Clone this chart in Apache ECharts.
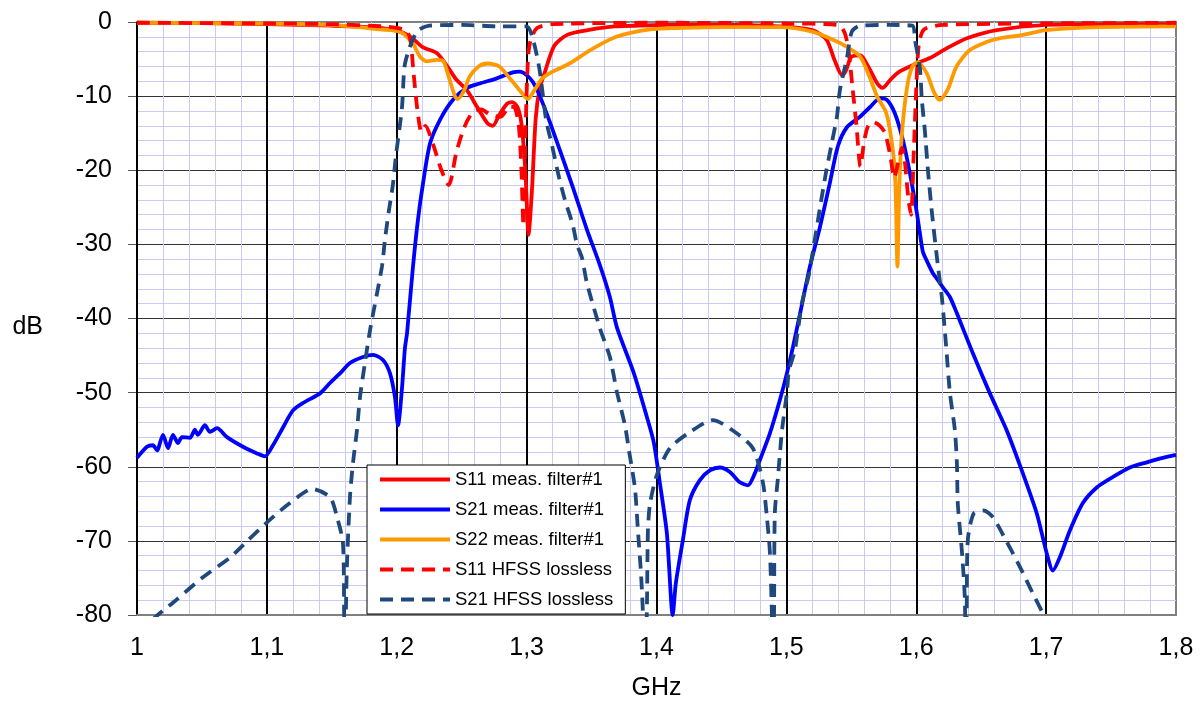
<!DOCTYPE html>
<html><head><meta charset="utf-8">
<script src="https://cdn.jsdelivr.net/npm/echarts@6/dist/echarts.min.js"></script>
<style>html,body{margin:0;padding:0;background:#fff}#c{width:1204px;height:706px}</style>
</head><body><div id="c"></div>
<script>
const seriesNames = ['S11 meas. filter#1','S21 meas. filter#1','S22 meas. filter#1','S11 HFSS lossless','S21 HFSS lossless'];
const xTickLabels = ['1','1,1','1,2','1,3','1,4','1,5','1,6','1,7','1,8'];

const s11MeasF = [1.00,1.05,1.10,1.15,1.1875,1.2025,1.212,1.220,1.231,1.239,1.246,1.254,1.262,1.270,1.274,1.279,1.285,1.289,1.293,1.296,1.299,1.3015,1.304,1.307,1.310,1.3136,1.3213,1.3316,1.347,1.368,1.407,1.45,1.495,1.520,1.531,1.537,1.543,1.546,1.550,1.557,1.563,1.570,1.574,1.580,1.587,1.600,1.610,1.624,1.639,1.662,1.700,1.75,1.80];
const s11MeasDb = [-0.1,-0.15,-0.3,-0.5,-0.8,-1.3,-2.2,-3.4,-4.2,-6.0,-7.8,-9.2,-11.5,-13.7,-14.0,-12.5,-11.0,-10.8,-11.5,-13.7,-20,-28.7,-23,-13,-9,-7.0,-3.2,-1.7,-1.1,-0.6,-0.4,-0.35,-0.6,-1.1,-2.4,-5.1,-7.2,-6.5,-4.7,-4.5,-6.0,-8.3,-8.9,-7.8,-6.7,-5.6,-4.9,-3.5,-2.2,-1.1,-0.4,-0.3,-0.3];

const s21MeasF = [1.000,1.0077,1.0123,1.0154,1.020,1.0239,1.0277,1.0316,1.0346,1.0408,1.0446,1.0469,1.0523,1.0562,1.0616,1.0693,1.0816,1.0924,1.0985,1.1047,1.1124,1.1201,1.1278,1.1409,1.1486,1.1563,1.164,1.174,1.1817,1.1894,1.1948,1.1986,1.201,1.204,1.2063,1.2079,1.2125,1.2163,1.2202,1.2256,1.2333,1.2433,1.254,1.264,1.2771,1.2894,1.2948,1.3002,1.3048,1.3102,1.3179,1.3256,1.3356,1.3464,1.3564,1.3641,1.3695,1.3826,1.3926,1.398,1.4026,1.408,1.4125,1.4149,1.4203,1.4257,1.4334,1.4411,1.4488,1.4565,1.4642,1.4704,1.4757,1.4796,1.4873,1.495,1.5004,1.505,1.51,1.5181,1.5258,1.5335,1.5396,1.5466,1.5566,1.5643,1.572,1.5774,1.5835,1.5897,1.5951,1.6005,1.6028,1.6051,1.6078,1.6128,1.6166,1.6205,1.6259,1.6313,1.6436,1.6567,1.6697,1.6821,1.6928,1.7005,1.7052,1.7106,1.7183,1.7283,1.739,1.7513,1.7644,1.7775,1.7898,1.800];
const s21MeasDb = [-58.8,-57.3,-57.1,-57.8,-55.7,-57.5,-55.7,-56.8,-56.0,-56.1,-55.0,-55.7,-54.4,-55.3,-54.8,-56.0,-57.3,-58.2,-58.6,-57.1,-54.7,-52.4,-51.4,-50.1,-48.7,-47.4,-46.0,-45.2,-44.9,-45.6,-47.4,-50.6,-54.4,-49.5,-44,-42,-33,-26.7,-21.8,-16.4,-13.2,-10.5,-8.9,-8.3,-7.6,-6.8,-6.7,-7.2,-8.1,-10,-13.5,-17.3,-22.3,-28,-32.8,-37.1,-41.2,-47.4,-53.3,-56.8,-62.2,-69,-80,-75.7,-69.9,-64.5,-61.8,-60.5,-60.1,-60.7,-62.1,-62.5,-60.9,-59.1,-55.5,-51,-47.4,-43.9,-39.8,-33,-27.7,-21.7,-16.8,-14.2,-12.8,-11.5,-10.3,-10.5,-12.3,-15.9,-20.4,-25.8,-28.5,-31,-32.1,-33.9,-34.8,-35.8,-37.1,-39.3,-44.7,-50.1,-55.1,-60.9,-66.3,-71.7,-74,-72.2,-68.6,-64.9,-62.8,-61.4,-60.1,-59.4,-58.8,-58.4];

const s22MeasF = [1.00,1.10,1.15,1.1875,1.2025,1.212,1.218,1.223,1.231,1.236,1.240,1.245,1.247,1.252,1.256,1.263,1.270,1.279,1.288,1.296,1.301,1.306,1.312,1.320,1.333,1.349,1.369,1.395,1.42,1.45,1.495,1.520,1.536,1.546,1.557,1.564,1.570,1.577,1.582,1.584,1.5855,1.587,1.589,1.593,1.597,1.601,1.608,1.614,1.618,1.624,1.631,1.641,1.654,1.664,1.680,1.700,1.741,1.80];
const s22MeasDb = [-0.1,-0.2,-0.4,-1.0,-1.3,-2.8,-4.7,-5.3,-5.1,-5.3,-7.4,-10.1,-10.4,-9.2,-7.4,-6.0,-5.6,-6.0,-7.8,-9.5,-10.4,-9.2,-7.6,-6.7,-5.6,-3.8,-2.0,-1.0,-0.8,-0.7,-0.7,-1.3,-2.4,-3.3,-4.7,-7.4,-10.1,-12.3,-17.3,-22,-33,-22,-15,-8.7,-6.0,-5.4,-6.9,-9.6,-10.5,-9.2,-6.0,-3.8,-2.7,-2.2,-1.8,-1.1,-0.7,-0.6];

const s11HfssF = [1.00,1.10,1.15,1.19,1.205,1.210,1.213,1.216,1.219,1.222,1.228,1.234,1.240,1.246,1.252,1.258,1.265,1.272,1.280,1.287,1.291,1.294,1.296,1.2975,1.299,1.301,1.303,1.308,1.32,1.40,1.50,1.540,1.545,1.548,1.551,1.554,1.557,1.560,1.563,1.567,1.572,1.576,1.580,1.583,1.586,1.589,1.591,1.594,1.596,1.598,1.600,1.602,1.606,1.62,1.70,1.80];
const s11HfssDb = [-0.1,-0.2,-0.3,-0.6,-1.0,-2.0,-7.0,-12.0,-14.8,-14.0,-16.5,-19.8,-22,-17.5,-14.2,-12.3,-11.8,-12.5,-12.8,-11.4,-11.6,-14,-20,-27.5,-16,-5,-2.5,-0.8,-0.3,-0.1,-0.2,-0.4,-1.5,-4,-9,-14,-19.5,-16,-14,-13.5,-14,-15,-18,-21,-19,-17,-18.5,-24,-26,-18,-9,-3,-1,-0.4,-0.2,-0.1];

const s21HfssF = [1.000,1.016,1.030,1.050,1.072,1.085,1.102,1.117,1.135,1.1486,1.154,1.1586,1.1596,1.1603,1.161,1.1617,1.164,1.1663,1.1694,1.1717,1.1755,1.1794,1.1886,1.1909,1.194,1.197,1.1994,1.204,1.206,1.210,1.216,1.225,1.25,1.28,1.300,1.305,1.310,1.315,1.3195,1.325,1.3295,1.3356,1.3387,1.3426,1.3464,1.3564,1.3641,1.3695,1.3757,1.3788,1.3834,1.3857,1.388,1.3895,1.3905,1.3925,1.3934,1.395,1.4003,1.4103,1.4242,1.4434,1.4588,1.4742,1.4819,1.485,1.4873,1.4888,1.4897,1.4905,1.4911,1.4935,1.4965,1.5004,1.502,1.5065,1.512,1.5173,1.5212,1.5266,1.5304,1.535,1.5389,1.5412,1.5466,1.5504,1.5566,1.58,1.597,1.599,1.6028,1.6043,1.6066,1.609,1.612,1.6166,1.6197,1.6228,1.6259,1.6297,1.6313,1.632,1.6351,1.6374,1.638,1.6388,1.6397,1.6443,1.652,1.659,1.669,1.6798,1.6898,1.6975,1.705,1.712];
const s21HfssDb = [-82.5,-80,-78,-75,-72.2,-70,-67.2,-65,-63,-64.1,-66.8,-70.3,-82,-86,-78,-73,-64,-59.5,-55,-50.6,-46,-41.6,-33,-29.4,-25.4,-22,-18,-11.6,-6,-3.4,-1.2,-0.5,-0.4,-0.6,-0.6,-2.4,-6.5,-13.2,-16.6,-21,-24,-27.4,-30,-31.8,-35.2,-41.3,-45.2,-49.9,-54.4,-57.8,-62.9,-68.6,-74.2,-79.6,-88,-80,-68.6,-65,-61.1,-57.5,-55.5,-53.7,-55.1,-57.5,-62.1,-66.8,-71.5,-79.6,-88,-80,-66.3,-61.5,-55.3,-50,-47,-44.3,-37.9,-34.1,-30.1,-24.3,-20.4,-16.3,-12.8,-9.2,-4.9,-1.3,-0.5,-0.4,-0.5,-2.4,-6.2,-10.5,-14.6,-20,-25.6,-32.8,-37.1,-43.3,-50,-55,-59.5,-65,-71.3,-77.7,-86,-80,-69.9,-66.3,-65.9,-66.8,-69.9,-73.5,-77.1,-79.8,-83,-88];

const zip = (fs, ds) => fs.map((f, i) => [f, ds[i]]);

const FONT = 'Liberation Sans, Arial, sans-serif';
const chart = echarts.init(document.getElementById('c'), null, {renderer: 'canvas'});

function mkSeries(name, fs, ds, color, dashed) {
  return {
    name: name, type: 'line', data: zip(fs, ds), showSymbol: false, symbol: 'none',
    smooth: 0.25, clip: true,
    lineStyle: {color: color, width: 3.8, type: dashed ? [13, 8] : 'solid'},
    itemStyle: {color: color},
    emphasis: {disabled: true}, animation: false
  };
}

chart.setOption({
  animation: false,
  backgroundColor: '#ffffff',
  grid: {left: 137, right: 28, top: 22, bottom: 91, show: true, borderColor: '#808080', borderWidth: 2, backgroundColor: '#ffffff'},
  xAxis: {
    type: 'value', min: 1, max: 1.8, interval: 0.1, z: 1,
    name: 'GHz', nameLocation: 'middle', nameGap: 61,
    nameTextStyle: {fontFamily: FONT, fontSize: 25, color: '#000'},
    axisLine: {show: true, onZero: false, lineStyle: {color: '#808080', width: 2}},
    axisTick: {show: false},
    axisLabel: {fontFamily: FONT, fontSize: 25, color: '#000', margin: 21,
      formatter: v => xTickLabels[Math.round((v - 1) * 10)]},
    splitLine: {show: true, showMaxLine: false, lineStyle: {color: '#000', width: 2}},
    minorTick: {show: false, splitNumber: 5},
    minorSplitLine: {show: true, lineStyle: {color: '#cacaf5', width: 1}}
  },
  yAxis: {
    type: 'value', min: -80, max: 0, interval: 10,
    name: 'dB', nameLocation: 'middle', nameGap: 94, nameRotate: 0,
    nameTextStyle: {fontFamily: FONT, fontSize: 25, color: '#000', verticalAlign: 'top', lineHeight: 17},
    axisLine: {show: false},
    axisTick: {show: true, length: 9, lineStyle: {color: '#555', width: 1}},
    axisLabel: {fontFamily: FONT, fontSize: 25, color: '#000', margin: 25},
    splitLine: {show: true, showMinLine: false, showMaxLine: false, lineStyle: {color: '#333', width: 1}},
    minorTick: {show: false, splitNumber: 5},
    minorSplitLine: {show: true, lineStyle: {color: '#cacaf5', width: 1}}
  },
  legend: {
    show: true, orient: 'vertical', left: 367, top: 465,
    backgroundColor: '#fff', borderColor: '#000', borderWidth: 1, borderRadius: 0,
    padding: [5, 12, 5, 11], itemGap: 11, itemWidth: 70, itemHeight: 14,
    lineStyle: {width: 4},
    itemStyle: {opacity: 0, borderWidth: 0},
    textStyle: {fontFamily: FONT, fontSize: 18.5, color: '#000'},
    selectedMode: false,
    data: seriesNames
  },
  series: [
    mkSeries(seriesNames[0], s11MeasF, s11MeasDb, '#ff0000', false),
    mkSeries(seriesNames[1], s21MeasF, s21MeasDb, '#0000ff', false),
    mkSeries(seriesNames[2], s22MeasF, s22MeasDb, '#ff9900', false),
    mkSeries(seriesNames[3], s11HfssF, s11HfssDb, '#ff0000', true),
    mkSeries(seriesNames[4], s21HfssF, s21HfssDb, '#1f497d', true)
  ]
});
</script>
</body></html>
